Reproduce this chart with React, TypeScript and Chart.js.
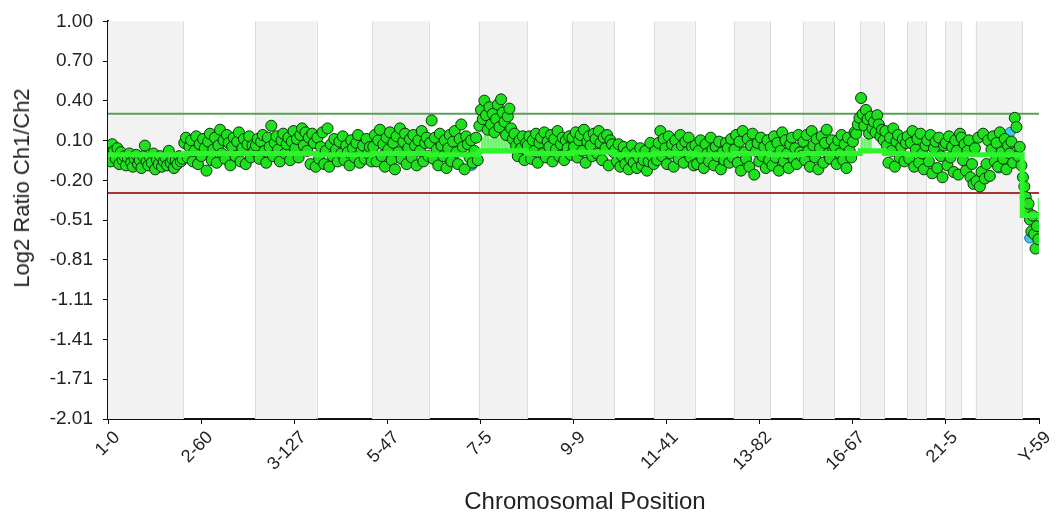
import { useEffect, useRef } from "react";
import Chart from "chart.js/auto";

// chromosome bands along the probe axis (start position of each chromosome)
const chromNames = ["1", "2", "3", "4", "5", "6", "7", "8", "9", "10", "11", "12", "13", "14", "15", "16", "17", "18", "19", "20", "21", "22", "X", "Y"];
const chromStarts = [0, 81, 158, 224, 284, 345, 398, 450, 498, 544, 587, 630, 672, 711, 746, 780, 808, 834, 858, 879, 899, 916, 932, 982];
const axisEnd = 1000;

// segmentation level per chromosome
const segmentLevels = [-0.01, 0.0, 0.0, -0.01, 0.0, -0.01, 0.02, 0.0, 0.01, -0.01, 0.0, -0.01, 0.0, -0.01, 0.0, 0.0, 0.02, 0.0, -0.01, -0.01, -0.01, -0.01, -0.01, -0.47];

const xTickLabels = ["1-0", "2-60", "3-127", "5-47", "7-5", "9-9", "11-41", "13-82", "16-67", "21-5", "Y-59"];
const yTickLabels = ["-2.01", "-1.71", "-1.41", "-1.11", "-0.81", "-0.51", "-0.20", "0.10", "0.40", "0.70", "1.00"];

const gainThreshold = 0.3;
const lossThreshold = -0.3;

// log2 ratios per chromosome, read left to right
const chr1 = [0.05, -0.06, 0.07, 0.02, -0.04, 0.04, -0.08, 0.01, -0.05, -0.02, -0.09, -0.03, 0.0, -0.07, -0.1, -0.04, -0.01, -0.08, -0.05, -0.11, -0.02, 0.06, -0.06, -0.09, -0.03, -0.07, 0.0, -0.12, -0.05, -0.08, -0.02, -0.1, -0.06, -0.03, -0.09, 0.02, -0.07, -0.04, -0.11, -0.05, -0.08, -0.02, -0.06, -0.04];
const chr2 = [0.08, 0.12, -0.03, 0.05, 0.1, -0.06, 0.02, 0.13, -0.08, 0.07, -0.02, 0.11, 0.04, -0.13, 0.09, 0.15, -0.05, 0.03, 0.12, -0.07, 0.06, 0.18, 0.0, 0.1, -0.04, 0.14, 0.08, -0.09, 0.05, 0.12, -0.02, 0.09, 0.16, -0.06, 0.04, 0.11, -0.08, 0.07, 0.13, -0.03, 0.06, 0.02];
const chr3 = [0.06, 0.11, -0.04, 0.09, 0.14, 0.02, -0.07, 0.12, 0.05, 0.21, -0.02, 0.08, 0.13, 0.03, -0.06, 0.1, 0.15, 0.0, 0.07, 0.12, -0.05, 0.09, 0.17, 0.04, 0.11, -0.03, 0.14, 0.19, 0.06, 0.16, 0.02, 0.12, -0.08, 0.15, 0.08, -0.1];
const chr4 = [0.12, -0.04, 0.05, 0.16, -0.08, 0.02, 0.19, -0.1, 0.07, -0.02, 0.11, 0.03, -0.06, 0.09, 0.0, 0.13, -0.05, 0.06, 0.01, -0.09, 0.1, 0.04, -0.03, 0.08, 0.14, -0.07, 0.02, 0.06, -0.04, 0.11, 0.0, 0.05, -0.06];
const chr5 = [0.05, 0.14, -0.06, 0.1, 0.18, -0.02, 0.07, -0.1, 0.12, 0.03, 0.16, -0.05, 0.08, -0.12, 0.13, 0.01, 0.19, -0.04, 0.09, 0.15, -0.08, 0.04, 0.11, -0.03, 0.14, 0.06, -0.09, 0.1, 0.02, 0.17, -0.06, 0.08, 0.12, -0.02];
const chr6 = [0.08, 0.25, -0.04, 0.12, 0.03, -0.09, 0.15, 0.06, -0.02, 0.1, -0.11, 0.04, 0.14, -0.06, 0.09, 0.17, 0.01, -0.08, 0.11, 0.22, 0.05, -0.12, 0.13, 0.07, -0.03, 0.1, -0.07, 0.02, 0.12, -0.05];
const chr7 = [0.21, 0.33, 0.26, 0.4, 0.29, 0.18, 0.35, 0.22, 0.3, 0.16, 0.26, 0.37, 0.2, 0.41, 0.31, 0.24, 0.14, 0.28, 0.34, 0.19, 0.11, 0.15, 0.06, -0.02, 0.1, 0.04, 0.13, -0.05, 0.08];
const chr8 = [0.06, 0.13, -0.04, 0.1, 0.02, 0.15, -0.07, 0.08, 0.12, 0.0, 0.16, -0.03, 0.09, 0.05, 0.14, -0.06, 0.11, 0.03, 0.17, -0.02, 0.07, 0.12, -0.05, 0.1, 0.04, 0.13, -0.01];
const chr9 = [0.12, 0.05, 0.16, -0.03, 0.1, 0.14, 0.02, 0.18, -0.07, 0.09, 0.13, 0.06, -0.02, 0.15, 0.11, 0.0, 0.17, 0.08, -0.05, 0.12, 0.04, 0.14, -0.09, 0.1, 0.07, 0.01];
const chr10 = [0.03, -0.06, 0.07, -0.1, -0.02, 0.05, -0.08, 0.01, -0.12, -0.04, 0.06, -0.07, 0.0, -0.11, -0.03, 0.04, -0.09, -0.05, 0.02, -0.13, -0.06, 0.08, -0.02, -0.08];
const chr11 = [0.02, -0.05, 0.08, 0.17, -0.02, 0.11, 0.04, -0.08, 0.13, 0.0, 0.07, -0.1, 0.1, 0.03, -0.04, 0.14, 0.06, -0.07, 0.09, 0.01, 0.12, -0.03, 0.05, -0.09];
const chr12 = [0.06, -0.08, 0.02, 0.1, -0.04, -0.11, 0.07, 0.0, -0.06, 0.12, 0.03, -0.09, 0.05, -0.02, 0.09, -0.12, 0.01, -0.05, 0.08, 0.04, -0.07, 0.11, -0.03];
const chr13 = [0.03, 0.14, -0.07, 0.09, -0.13, 0.17, 0.01, -0.04, 0.11, -0.1, 0.06, 0.15, -0.16, 0.02, 0.08, -0.06, 0.12, -0.02, 0.05, -0.11, 0.1, -0.05];
const chr14 = [0.05, -0.09, 0.13, -0.03, 0.08, -0.13, 0.02, 0.16, -0.06, 0.1, 0.0, -0.11, 0.07, 0.12, -0.04, 0.04, -0.08, 0.14, 0.01, -0.02];
const chr15 = [0.09, -0.05, 0.14, 0.02, -0.1, 0.17, 0.06, -0.03, 0.11, -0.12, 0.04, 0.13, -0.07, 0.08, 0.18, 0.0, -0.04, 0.1, 0.03];
const chr16 = [0.05, -0.08, 0.1, 0.0, 0.14, -0.05, 0.07, -0.11, 0.12, 0.02, -0.03, 0.09, 0.16, 0.15, 0.22, 0.27];
const chr17 = [0.42, 0.3, 0.21, 0.33, 0.26, 0.15, 0.28, 0.19, 0.24, 0.16, 0.29, 0.22, 0.13, 0.18, 0.1];
const chr18 = [0.17, 0.06, -0.07, 0.12, 0.02, 0.19, -0.1, 0.09, 0.14, -0.03, 0.05, 0.11, -0.06, 0.08];
const chr19 = [0.13, -0.04, 0.08, 0.17, -0.1, 0.03, 0.11, -0.07, 0.15, 0.0, -0.12, 0.06];
const chr20 = [0.1, -0.06, 0.14, -0.15, 0.04, 0.09, -0.11, 0.12, -0.02, -0.18, 0.06];
const chr21 = [0.08, -0.09, 0.13, -0.03, 0.05, -0.14, 0.1, 0.02, -0.16, 0.15];
const chr22 = [0.12, -0.05, 0.07, -0.13, 0.02, 0.1, -0.18, -0.08, -0.23, 0.04];
const chrX = [-0.21, 0.12, -0.25, -0.14, 0.15, -0.19, -0.08, 0.1, -0.17, 0.03, 0.13, -0.06, 0.08, -0.1, 0.16, 0.01, -0.04, 0.11, -0.12, 0.06, 0.0, 0.09, -0.07, 0.27, 0.2, -0.02, 0.05, -0.09];
const chrY = [-0.18, -0.25, -0.33, -0.43, -0.38, -0.5, -0.59, -0.47, -0.61, -0.72, -0.55, -0.65];

const ratiosByChrom = [chr1, chr2, chr3, chr4, chr5, chr6, chr7, chr8, chr9, chr10, chr11, chr12, chr13, chr14, chr15, chr16, chr17, chr18, chr19, chr20, chr21, chr22, chrX, chrY];

// probes flagged blue (drawn behind the green ones)
const bluePositions = [250, 252, 391, 855, 957, 969, 990];
const blueRatios = [0.1, 0.08, -0.09, -0.05, -0.11, 0.16, -0.64];

// vertical segment stems
const stemPositions = [402, 405, 408, 411, 414, 417, 420, 423, 426, 429, 432, 810, 813, 816, 819, 1000];
const stemLows = [0, 0, 0, 0, 0, 0, 0, 0, 0, 0, 0, 0, 0, 0, 0, -0.53];
const stemHighs = [0.12, 0.14, 0.13, 0.11, 0.14, 0.13, 0.12, 0.14, 0.1, 0.13, 0.12, 0.12, 0.11, 0.12, 0.1, -0.34];

const FONT = "'Liberation Sans', Arial, sans-serif";

const chromEnd = (i: number) => (i + 1 < chromStarts.length ? chromStarts[i + 1] : axisEnd);

const bandsPlugin = {
  id: "chromBands",
  beforeDatasetsDraw(chart: any) {
    const { ctx, chartArea, scales } = chart;
    const xs = scales.x;
    ctx.save();
    chromNames.forEach((_, i) => {
      if (i % 2 !== 0) return;
      const x0 = xs.getPixelForValue(chromStarts[i]);
      const x1 = xs.getPixelForValue(chromEnd(i));
      ctx.fillStyle = "#f2f2f2";
      ctx.fillRect(x0, chartArea.top, x1 - x0, chartArea.bottom - chartArea.top);
    });
    ctx.strokeStyle = "#dcdcdc";
    ctx.lineWidth = 1;
    chromStarts.slice(1).forEach((s) => {
      const px = Math.round(xs.getPixelForValue(s)) + 0.5;
      ctx.beginPath();
      ctx.moveTo(px, chartArea.top);
      ctx.lineTo(px, chartArea.bottom);
      ctx.stroke();
    });
    ctx.restore();
  },
};

const titleStyle = {
  position: "absolute" as const,
  whiteSpace: "nowrap" as const,
  fontFamily: FONT,
  color: "#222",
  lineHeight: 1,
};

const App = () => {
  const canvasRef = useRef<HTMLCanvasElement>(null);

  useEffect(() => {
    if (!canvasRef.current) return;

    const ratioPoints = ratiosByChrom.flatMap((vals, i) => {
      const start = chromStarts[i];
      const step = (chromEnd(i) - start) / vals.length;
      return vals.map((v, j) => ({ x: start + (j + 0.5) * step, y: v }));
    });
    const segmentPoints = segmentLevels.flatMap((lvl, i) => [
      { x: chromStarts[i], y: lvl },
      { x: chromEnd(i), y: lvl },
    ]);
    const bluePoints = bluePositions.map((x, i) => ({ x, y: blueRatios[i] }));
    const stems = stemPositions.map((x, i) => ({ x, y: [stemLows[i], stemHighs[i]] }));

    const chart = new Chart(canvasRef.current, {
      type: "scatter",
      data: {
        datasets: [
          {
            type: "line",
            label: "segments",
            data: segmentPoints,
            borderColor: "#2cf52c",
            borderWidth: 5,
            pointRadius: 0,
            order: 0,
          },
          {
            type: "scatter",
            label: "ratios",
            data: ratioPoints,
            backgroundColor: "#1fe01f",
            borderColor: "#083008",
            borderWidth: 1,
            pointRadius: 5.5,
            order: 1,
          },
          {
            type: "scatter",
            label: "flagged",
            data: bluePoints,
            backgroundColor: "#3cc8f0",
            borderColor: "#1a6a8a",
            borderWidth: 1,
            pointRadius: 5,
            order: 2,
          },
          {
            type: "bar",
            label: "stems",
            data: stems as any,
            backgroundColor: "#6cf56c",
            barThickness: 2,
            grouped: false,
            order: 3,
          },
          {
            type: "line",
            label: "gain",
            data: [
              { x: 0, y: gainThreshold },
              { x: axisEnd, y: gainThreshold },
            ],
            borderColor: "#5a9e5a",
            borderWidth: 2,
            pointRadius: 0,
            order: 4,
          },
          {
            type: "line",
            label: "loss",
            data: [
              { x: 0, y: lossThreshold },
              { x: axisEnd, y: lossThreshold },
            ],
            borderColor: "#a83434",
            borderWidth: 2,
            pointRadius: 0,
            order: 4,
          },
        ],
      },
      options: {
        responsive: true,
        maintainAspectRatio: false,
        animation: false,
        layout: { padding: { top: 18, right: 19, left: 0, bottom: 0 } },
        plugins: {
          legend: { display: false },
          tooltip: { enabled: false },
        },
        scales: {
          x: {
            type: "linear",
            min: 0,
            max: axisEnd,
            offset: false,
            afterFit: (s: any) => {
              s.height = 97;
            },
            ticks: {
              stepSize: 100,
              autoSkip: false,
              maxRotation: 45,
              minRotation: 45,
              labelOffset: 9,
              padding: 3,
              color: "#222",
              font: { family: FONT, size: 18 },
              callback: (v: any) => xTickLabels[Math.round(Number(v) / 100)] ?? "",
            },
            grid: { display: true, offset: false, drawOnChartArea: false, drawTicks: true, tickLength: 5, tickColor: "#111" },
            border: { display: true, color: "#111", width: 2 },
          },
          y: {
            type: "linear",
            min: -2.01,
            max: 1.0,
            afterFit: (s: any) => {
              s.width = 108;
            },
            ticks: {
              stepSize: 0.301,
              color: "#222",
              padding: 10,
              font: { family: FONT, size: 19 },
              callback: (v: any, i: number) => yTickLabels[i] ?? Number(v).toFixed(2),
            },
            grid: { display: true, offset: false, drawOnChartArea: false, drawTicks: true, tickLength: 5, tickColor: "#111" },
            border: { display: true, color: "#111", width: 2 },
          },
        },
      },
      plugins: [bandsPlugin],
    });

    return () => {
      chart.destroy();
    };
  }, []);

  return (
    <div style={{ position: "fixed", left: 0, top: 0, width: 1058, height: 516, background: "#fff" }}>
      <canvas ref={canvasRef} />
      <div
        style={{
          ...titleStyle,
          left: 22,
          top: 188,
          fontSize: 22,
          transform: "translate(-50%, -50%) rotate(-90deg)",
        }}
      >
        Log2 Ratio Ch1/Ch2
      </div>
      <div
        style={{
          ...titleStyle,
          left: 585,
          top: 501,
          fontSize: 24,
          transform: "translate(-50%, -50%)",
        }}
      >
        Chromosomal Position
      </div>
    </div>
  );
};

export default App;
